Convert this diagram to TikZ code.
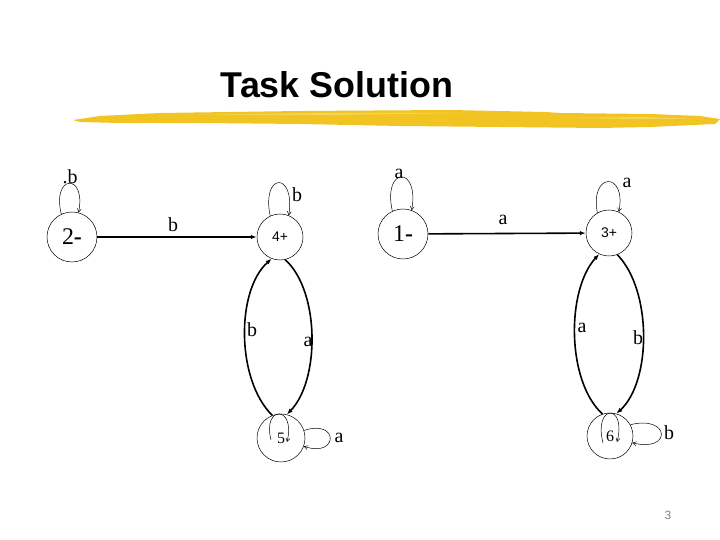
\documentclass[tikz,border=0pt]{standalone}
\usepackage{fontspec}
\setmainfont{Liberation Serif}
\setsansfont{Liberation Sans}
\usetikzlibrary{arrows.meta}
\definecolor{brushyellow}{HTML}{F1C421}
\definecolor{brushlight}{HTML}{F6D45C}
\definecolor{pagegray}{HTML}{7F7F7F}

\begin{document}
\begin{tikzpicture}[x=1bp,y=1bp,
  state/.style={draw,circle,line width=0.5pt,inner sep=0pt},
  bigstate/.style={state,font=\fontsize{24}{24}\selectfont},
  acc/.style={state,font=\sffamily\fontsize{14}{14}\selectfont},
  trans/.style={line width=1.6pt,-{Latex[length=6pt,width=4.5pt]}},
  selfloop/.style={line width=0.5pt,-{Straight Barb[length=3.5pt,width=4pt]}},
  lbl/.style={font=\fontsize{20}{20}\selectfont,inner sep=0pt}]
  \useasboundingbox (0,0) rectangle (720,540);
  \fill[brushyellow] (73,420)--(100,424)--(160,427)--(300,429)--(450,430)--(545,428)--(560,427)--(650,426)--(700,424)--(720,421)--(715,416)--(650,413)--(600,412)--(500,413)--(400,414)--(300,416)--(200,417)--(120,417)--(80,418)--cycle;
  \fill[brushlight] (180,425)--(330,427)--(470,427)--(330,425)--cycle;
  \fill[brushlight] (560,422)--(640,423)--(700,421)--(640,421)--cycle;
  \node[font=\sffamily\bfseries\fontsize{36}{36}\selectfont] (title) at (337,455) {Task Solution};
  \node[bigstate,minimum size=50bp] (s2) at (72,303) {2\textbf{-}};
  \node[acc,minimum size=46bp] (s4) at (280,303) {4+};
  \node[bigstate,minimum size=50bp] (s1) at (403,306) {1\textbf{-}};
  \node[acc,minimum size=46bp] (s3) at (609,307) {3+};
  \node[state,minimum size=48bp,font=\fontsize{16}{16}\selectfont] (s5) at (281,102) {5};
  \node[state,minimum size=46bp,font=\fontsize{16}{16}\selectfont] (s6) at (610,104) {6};
  \draw[trans] (s2) -- (s4);
  \draw[trans] (s1) -- (s3);
  \draw[trans] (s5.111) .. controls +(-36,35) and +(-36,-32) .. (s4.249);
  \draw[trans] (s4.283) .. controls +(35,-32) and +(33,34) .. (s5.76);
  \draw[trans] (s6.109) .. controls +(-36,33) and +(-33,-36) .. (s3.245);
  \draw[trans] (s3.291) .. controls +(35,-36) and +(35,32) .. (s6.74);
  \draw[selfloop] (s2.115) .. controls +(-10,40) and +(8,40) .. (s2.75);
  \draw[selfloop] (s4.115) .. controls +(-9,44) and +(7,44) .. (s4.68);
  \draw[selfloop] (s1.115) .. controls +(-10,45) and +(8,45) .. (s1.70);
  \draw[selfloop] (s3.120) .. controls +(-8,41) and +(8,41) .. (s3.65);
  \draw[selfloop] (s5.18) .. controls +(35,12) and +(35,-12) .. (s5.-20);
  \draw[selfloop] (s6.29) .. controls +(40,10) and +(40,-10) .. (s6.-17);
  \draw[selfloop] ([shift={(-10,-2)}]s5.center) .. controls +(-9,35) and +(9,37) .. ([shift={(6,-4)}]s5.center);
  \draw[selfloop] ([shift={(-7,-7)}]s6.center) .. controls +(-10,39) and +(10,39) .. ([shift={(7,-6)}]s6.center);
  \node[lbl] (l22) at (70,363) {.b};
  \node[lbl] (l24) at (173,315) {b};
  \node[lbl] (l44) at (297,345) {b};
  \node[lbl] (l11) at (399,366) {a};
  \node[lbl] (l13) at (503,320) {a};
  \node[lbl] (l33) at (627,357) {a};
  \node[lbl] (l54) at (252,210) {b};
  \node[lbl] (l45) at (308,198) {a};
  \node[lbl] (l55) at (339,102) {a};
  \node[lbl] (l63) at (582,212) {a};
  \node[lbl] (l36) at (638,202) {b};
  \node[lbl] (l66) at (669,107) {b};
  \node[font=\sffamily\fontsize{12}{12}\selectfont,text=pagegray] (pagenum) at (668,25) {3};
\end{tikzpicture}
\end{document}
